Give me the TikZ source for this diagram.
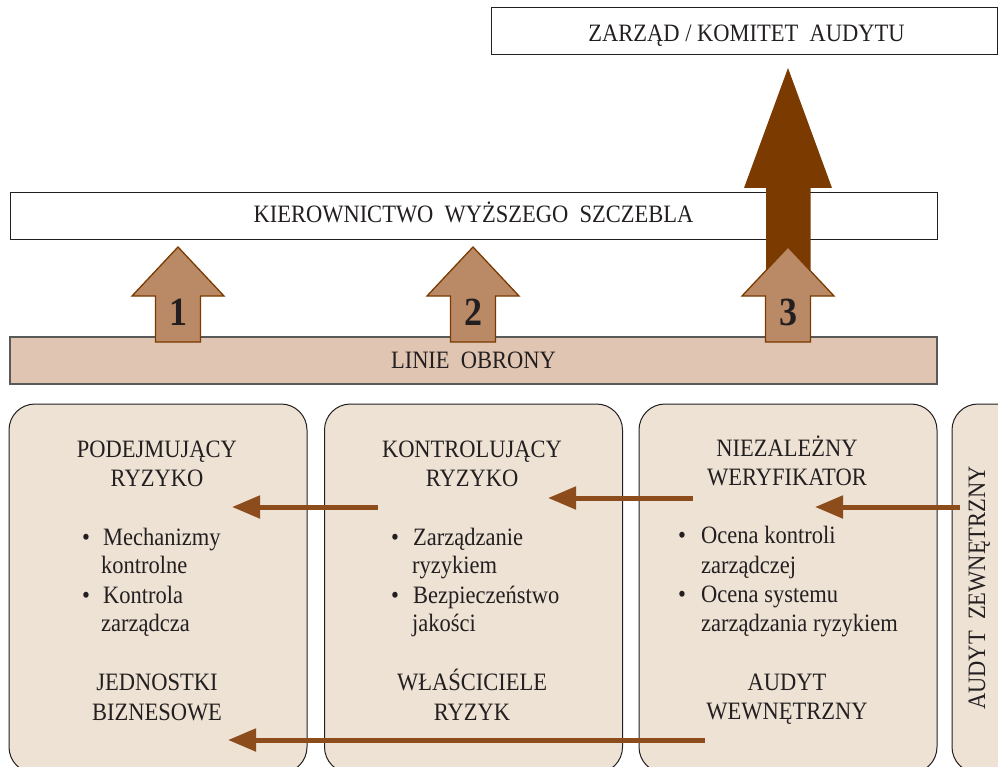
\documentclass[tikz,border=0pt]{standalone}
\usepackage{fontspec}
\setmainfont{Liberation Serif}[FakeStretch=0.9]
\usetikzlibrary{arrows.meta}
\definecolor{boxfill}{HTML}{EEE2D5}
\definecolor{barfill}{HTML}{DFC5B2}
\definecolor{lightarrow}{HTML}{BA8966}
\definecolor{darkarrow}{HTML}{7A3A00}
\definecolor{connc}{HTML}{8C4C1B}
\definecolor{ink}{HTML}{231F20}
\begin{document}
\begin{tikzpicture}[x=1pt,y=-1pt,
  every node/.style={font=\fontsize{25}{29.3}\selectfont, text=ink, inner sep=0pt},
  frame/.style={draw=ink, line width=1pt, fill=white, minimum height=47pt},
  bar/.style={draw=black!65, line width=1.2pt, fill=barfill, minimum height=47pt},
  rbox/.style={draw=ink, line width=1pt, fill=boxfill, rounded corners=26pt},
  blk/.style={fill=lightarrow, draw=darkarrow, line width=1.3pt, line join=miter},
  bigarrow/.style={fill=darkarrow},
  conn/.style={draw=connc, line width=5pt, -{Triangle[length=28pt,width=22pt]}},
  txt/.style={anchor=base},
  item/.style={anchor=base west},
  num/.style={anchor=base, font=\fontsize{40}{40}\selectfont\bfseries}]
\useasboundingbox (0,0) rectangle (998,767);
\clip (0,0) rectangle (998,767);

% top boxes
\node[frame, minimum width=506pt] (zarzad) at (744,31.5) {};
\node[txt] (tzarzad) at (746.5,42) {ZARZĄD / KOMITET~~AUDYTU};
\node[frame, minimum width=927pt] (kier) at (473.5,216.5) {};
\node[txt] (tkier) at (473.5,223) {KIEROWNICTWO~~WYŻSZEGO~~SZCZEBLA};

% big dark arrow
\path[bigarrow] (766,292) -- (766,188) -- (744,188) -- (788,68) -- (832,188) -- (810.5,188) -- (810.5,292) -- cycle;

% lines of defence bar
\node[bar, minimum width=927pt] (linie) at (473.5,360.5) {};
\node[txt] (tlinie) at (473.5,368) {LINIE~~OBRONY};

% block arrows 1-3
\foreach \cx/\n/\nm in {178/1/a1, 473/2/a2, 788/3/a3} {
  \path[blk] (\cx,247) -- (\cx+46,296) -- (\cx+22.5,296) -- (\cx+22.5,342)
     -- (\cx-22.5,342) -- (\cx-22.5,296) -- (\cx-46,296) -- cycle;
  \node[num] (\nm) at (\cx,325) {\n};
}

% rounded boxes
\node[rbox, minimum width=298pt, minimum height=369pt] (b1) at (158,588.5) {};
\node[rbox, minimum width=298pt, minimum height=369pt] (b2) at (473.5,588.5) {};
\node[rbox, minimum width=298pt, minimum height=369pt] (b3) at (788,588.5) {};
\node[rbox, minimum width=90pt, minimum height=369pt] (b4) at (997,588.5) {};

% box 1 text
\node[txt] (h1a) at (157,457) {PODEJMUJĄCY};
\node[txt] (h1b) at (157,486) {RYZYKO};
\node[txt] (d1a) at (86,545) {\textbullet};
\node[item] (i1a) at (103,545) {Mechanizmy};
\node[item] (i1b) at (101,573) {kontrolne};
\node[txt] (d1b) at (86,603) {\textbullet};
\node[item] (i1c) at (103,603) {Kontrola};
\node[item] (i1d) at (101,631) {zarządcza};
\node[txt] (f1a) at (157,690) {JEDNOSTKI};
\node[txt] (f1b) at (157,720) {BIZNESOWE};

% box 2 text
\node[txt] (h2a) at (472,457) {KONTROLUJĄCY};
\node[txt] (h2b) at (472,486) {RYZYKO};
\node[txt] (d2a) at (395,545) {\textbullet};
\node[item] (i2a) at (413,545) {Zarządzanie};
\node[item] (i2b) at (412,573) {ryzykiem};
\node[txt] (d2b) at (395,603) {\textbullet};
\node[item] (i2c) at (413,603) {Bezpieczeństwo};
\node[item] (i2d) at (412,631) {jakości};
\node[txt] (f2a) at (472,690) {WŁAŚCICIELE};
\node[txt] (f2b) at (472,720) {RYZYK};

% box 3 text
\node[txt] (h3a) at (787,456) {NIEZALEŻNY};
\node[txt] (h3b) at (787,485) {WERYFIKATOR};
\node[txt] (d3a) at (682,543) {\textbullet};
\node[item] (i3a) at (701,543) {Ocena kontroli};
\node[item] (i3b) at (701,573) {zarządczej};
\node[txt] (d3b) at (682,602) {\textbullet};
\node[item] (i3c) at (701,602) {Ocena systemu};
\node[item] (i3d) at (701,631) {zarządzania ryzykiem};
\node[txt] (f3a) at (787,690) {AUDYT};
\node[txt] (f3b) at (787,719) {WEWNĘTRZNY};

% box 4 text
\node[txt, rotate=90] (t4) at (985,588) {AUDYT~~ZEWNĘTRZNY};

% connectors
\coordinate (c1s) at (378,507); \coordinate (c1e) at (232,507);
\coordinate (c2s) at (693,498); \coordinate (c2e) at (548,498);
\coordinate (c3s) at (960,507); \coordinate (c3e) at (815,507);
\coordinate (c4s) at (705,740); \coordinate (c4e) at (228,740);
\draw[conn] (c1s) -- (c1e);
\draw[conn] (c2s) -- (c2e);
\draw[conn] (c3s) -- (c3e);
\draw[conn] (c4s) -- (c4e);
\end{tikzpicture}
\end{document}
